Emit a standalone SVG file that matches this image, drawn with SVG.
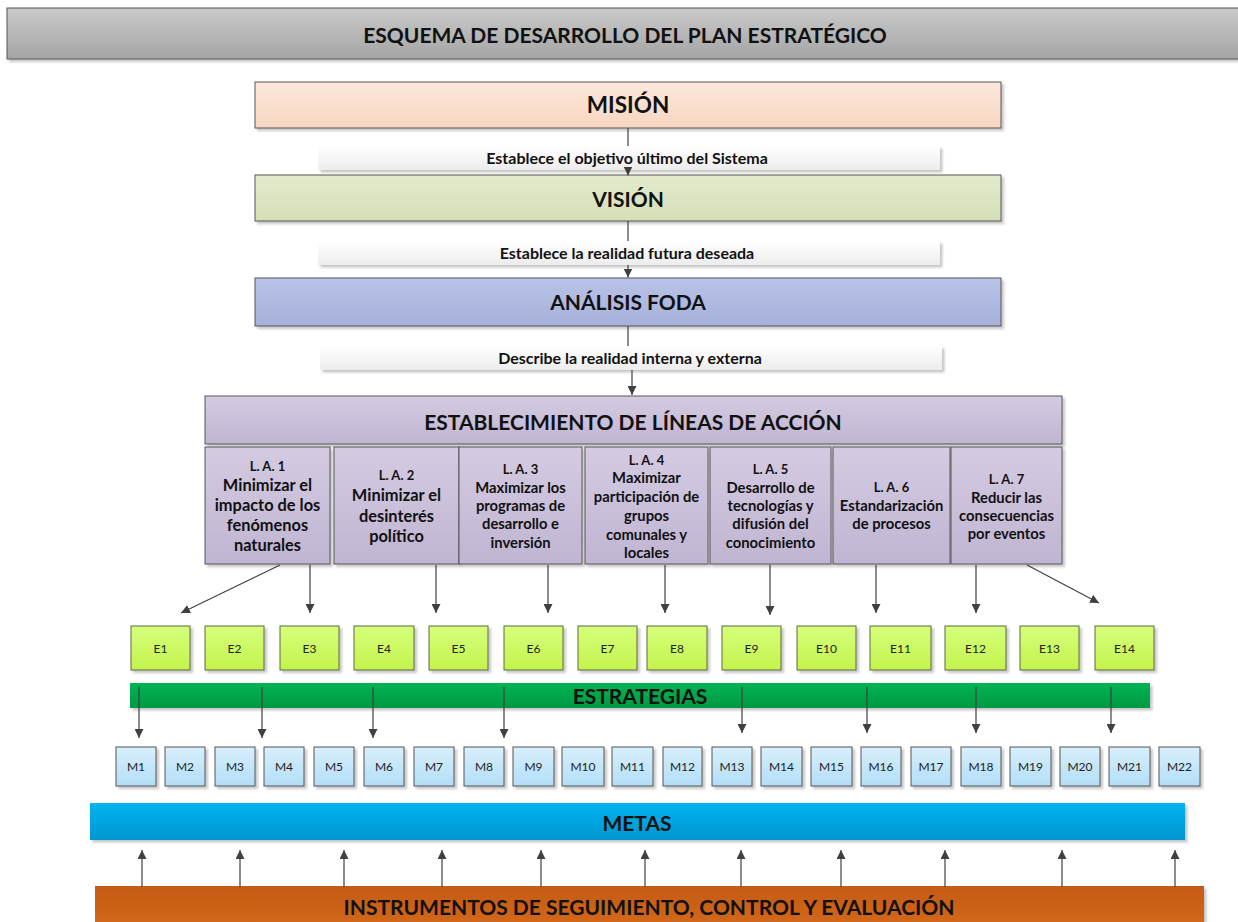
<svg xmlns="http://www.w3.org/2000/svg" width="1238" height="922" viewBox="0 0 1238 922">
<defs>
<linearGradient id="gTitle" x1="0" y1="0" x2="0" y2="1"><stop offset="0" stop-color="#cacaca"/><stop offset="1" stop-color="#a4a4a4"/></linearGradient>
<linearGradient id="gMision" x1="0" y1="0" x2="0" y2="1"><stop offset="0" stop-color="#fbe8dc"/><stop offset="1" stop-color="#f7d6c1"/></linearGradient>
<linearGradient id="gVision" x1="0" y1="0" x2="0" y2="1"><stop offset="0" stop-color="#e2eacd"/><stop offset="1" stop-color="#d4dfb6"/></linearGradient>
<linearGradient id="gFoda" x1="0" y1="0" x2="0" y2="1"><stop offset="0" stop-color="#b9c3e7"/><stop offset="1" stop-color="#a6b1da"/></linearGradient>
<linearGradient id="gLinea" x1="0" y1="0" x2="0" y2="1"><stop offset="0" stop-color="#d4cbe2"/><stop offset="1" stop-color="#c0b5d2"/></linearGradient>
<linearGradient id="gLabel" x1="0" y1="0" x2="0" y2="1"><stop offset="0" stop-color="#ffffff"/><stop offset="1" stop-color="#ececec"/></linearGradient>
<linearGradient id="gE" x1="0" y1="0" x2="0" y2="1"><stop offset="0" stop-color="#d6ff7c"/><stop offset="1" stop-color="#c3f34c"/></linearGradient>
<linearGradient id="gM" x1="0" y1="0" x2="0" y2="1"><stop offset="0" stop-color="#d8effc"/><stop offset="1" stop-color="#b2def7"/></linearGradient>
<linearGradient id="gEst" x1="0" y1="0" x2="0" y2="1"><stop offset="0" stop-color="#00b453"/><stop offset="1" stop-color="#009943"/></linearGradient>
<linearGradient id="gMetas" x1="0" y1="0" x2="0" y2="1"><stop offset="0" stop-color="#00b4f0"/><stop offset="1" stop-color="#0096cf"/></linearGradient>
<linearGradient id="gInst" x1="0" y1="0" x2="0" y2="1"><stop offset="0" stop-color="#c45a12"/><stop offset="1" stop-color="#d2691c"/></linearGradient>
<filter id="sh" x="-5%" y="-10%" width="115%" height="140%"><feDropShadow dx="2.5" dy="2.5" stdDeviation="1" flood-color="#000" flood-opacity="0.22"/></filter>
<marker id="ar" viewBox="0 0 10 10" refX="10" refY="5" markerWidth="9" markerHeight="9" markerUnits="userSpaceOnUse" orient="auto"><path d="M0,0 L10,5 L0,10 z" fill="#404040"/></marker>
</defs>
<style>
.t{font-family:Lato,"Open Sans","Liberation Sans",sans-serif;font-weight:bold;fill:#111;text-anchor:middle;dominant-baseline:central}
.big{font-size:21px}
.mis{font-size:22.5px}
.lab{font-size:16px}
.la{font-size:14.8px}
.la1{font-size:16.4px}
.lh{font-size:13px}
.sm{font-family:Lato,"Open Sans","Liberation Sans",sans-serif;font-size:12px;fill:#222;text-anchor:middle;dominant-baseline:central}
.bx{stroke:#555;stroke-width:1;filter:url(#sh)}
.lb{fill:url(#gLabel);stroke:none;filter:url(#sh)}
.e{fill:url(#gE);stroke:#5b6b3f;stroke-width:1;filter:url(#sh)}
.m{fill:url(#gM);stroke:#555;stroke-width:1;filter:url(#sh)}
.c{stroke:#404040;stroke-width:1.2;fill:none}
.ca{stroke:#404040;stroke-width:1.2;fill:none;marker-end:url(#ar)}
</style>
<rect width="1238" height="922" fill="#fff"/>

<g id="titulo"><rect class="bx" x="7" y="8" width="1240" height="51" fill="url(#gTitle)"/><text class="t big" x="625" y="34">ESQUEMA DE DESARROLLO DEL PLAN ESTRATÉGICO</text></g>

<g id="mision"><rect class="bx" x="255" y="82" width="746" height="46" fill="url(#gMision)"/><text class="t mis" x="628" y="104">MISIÓN</text></g>
<g id="label1"><rect class="lb" x="318" y="146" width="622" height="24"/><text class="t lab" x="627" y="157">Establece el objetivo último del Sistema</text></g>
<g id="vision"><rect class="bx" x="255" y="175" width="746" height="46" fill="url(#gVision)"/><text class="t big" x="628" y="198">VISIÓN</text></g>
<g id="label2"><rect class="lb" x="318" y="241" width="622" height="24"/><text class="t lab" x="627" y="252">Establece la realidad futura deseada</text></g>
<g id="foda"><rect class="bx" x="255" y="278" width="746" height="48" fill="url(#gFoda)"/><text class="t big" x="628" y="301">ANÁLISIS FODA</text></g>
<g id="label3"><rect class="lb" x="320" y="346" width="622" height="24"/><text class="t lab" x="630" y="357">Describe la realidad interna y externa</text></g>
<g id="lineas"><rect class="bx" x="205" y="396" width="857" height="48" fill="url(#gLinea)"/><text class="t big" x="633" y="421">ESTABLECIMIENTO DE LÍNEAS DE ACCIÓN</text></g>

<g id="la1"><rect class="bx" x="205" y="447" width="125" height="117" fill="url(#gLinea)"/>
<text class="t lh" x="267.5" y="466">L. A. 1</text><text class="t la1" x="267.5" y="484">Minimizar el</text><text class="t la1" x="267.5" y="504">impacto de los</text><text class="t la1" x="267.5" y="524">fenómenos</text><text class="t la1" x="267.5" y="544">naturales</text></g>
<g id="la2"><rect class="bx" x="334" y="447" width="125" height="117" fill="url(#gLinea)"/>
<text class="t lh" x="396.5" y="475">L. A. 2</text><text class="t la1" x="396.5" y="494">Minimizar el</text><text class="t la1" x="396.5" y="515">desinterés</text><text class="t la1" x="396.5" y="535">político</text></g>
<g id="la3"><rect class="bx" x="459" y="447" width="123" height="117" fill="url(#gLinea)"/>
<text class="t lh" x="520.5" y="469">L. A. 3</text><text class="t la" x="520.5" y="487">Maximizar los</text><text class="t la" x="520.5" y="505">programas de</text><text class="t la" x="520.5" y="523">desarrollo e</text><text class="t la" x="520.5" y="542">inversión</text></g>
<g id="la4"><rect class="bx" x="585" y="447" width="123" height="117" fill="url(#gLinea)"/>
<text class="t lh" x="646.5" y="460">L. A. 4</text><text class="t la" x="646.5" y="477">Maximizar</text><text class="t la" x="646.5" y="496">participación de</text><text class="t la" x="646.5" y="515">grupos</text><text class="t la" x="646.5" y="534">comunales y</text><text class="t la" x="646.5" y="552">locales</text></g>
<g id="la5"><rect class="bx" x="710" y="447" width="121" height="117" fill="url(#gLinea)"/>
<text class="t lh" x="770.5" y="469">L. A. 5</text><text class="t la" x="770.5" y="487">Desarrollo de</text><text class="t la" x="770.5" y="505">tecnologías y</text><text class="t la" x="770.5" y="523">difusión del</text><text class="t la" x="770.5" y="542">conocimiento</text></g>
<g id="la6"><rect class="bx" x="833" y="447" width="117" height="117" fill="url(#gLinea)"/>
<text class="t lh" x="891.5" y="487">L. A. 6</text><text class="t la" x="891.5" y="505">Estandarización</text><text class="t la" x="891.5" y="523">de procesos</text></g>
<g id="la7"><rect class="bx" x="951" y="447" width="111" height="117" fill="url(#gLinea)"/>
<text class="t lh" x="1006.5" y="479">L. A. 7</text><text class="t la" x="1006.5" y="497">Reducir las</text><text class="t la" x="1006.5" y="515">consecuencias</text><text class="t la" x="1006.5" y="533">por eventos</text></g>

<g id="e1"><rect class="e" x="131" y="626" width="59" height="44"/><text class="sm" x="160.5" y="648">E1</text></g>
<g id="e2"><rect class="e" x="205" y="626" width="59" height="44"/><text class="sm" x="234.5" y="648">E2</text></g>
<g id="e3"><rect class="e" x="280" y="626" width="59" height="44"/><text class="sm" x="309.5" y="648">E3</text></g>
<g id="e4"><rect class="e" x="354" y="626" width="60" height="44"/><text class="sm" x="384" y="648">E4</text></g>
<g id="e5"><rect class="e" x="429" y="626" width="59" height="44"/><text class="sm" x="458.5" y="648">E5</text></g>
<g id="e6"><rect class="e" x="504" y="626" width="59" height="44"/><text class="sm" x="533.5" y="648">E6</text></g>
<g id="e7"><rect class="e" x="578" y="626" width="59" height="44"/><text class="sm" x="607.5" y="648">E7</text></g>
<g id="e8"><rect class="e" x="647" y="626" width="60" height="44"/><text class="sm" x="677" y="648">E8</text></g>
<g id="e9"><rect class="e" x="722" y="626" width="59" height="44"/><text class="sm" x="751.5" y="648">E9</text></g>
<g id="e10"><rect class="e" x="797" y="626" width="59" height="44"/><text class="sm" x="826.5" y="648">E10</text></g>
<g id="e11"><rect class="e" x="870" y="626" width="61" height="44"/><text class="sm" x="900.5" y="648">E11</text></g>
<g id="e12"><rect class="e" x="945" y="626" width="61" height="44"/><text class="sm" x="975.5" y="648">E12</text></g>
<g id="e13"><rect class="e" x="1020" y="626" width="59" height="44"/><text class="sm" x="1049.5" y="648">E13</text></g>
<g id="e14"><rect class="e" x="1095" y="626" width="59" height="44"/><text class="sm" x="1124.5" y="648">E14</text></g>

<g id="estrategias"><rect x="130" y="683" width="1020" height="25" fill="url(#gEst)" filter="url(#sh)"/><text class="t big" x="640" y="695.5">ESTRATEGIAS</text></g>

<g id="m1"><rect class="m" x="116" y="747" width="40" height="39"/><text class="sm" x="136" y="766.5">M1</text></g>
<g id="m2"><rect class="m" x="165" y="747" width="40" height="39"/><text class="sm" x="185" y="766.5">M2</text></g>
<g id="m3"><rect class="m" x="215" y="747" width="40" height="39"/><text class="sm" x="235" y="766.5">M3</text></g>
<g id="m4"><rect class="m" x="264" y="747" width="40" height="39"/><text class="sm" x="284" y="766.5">M4</text></g>
<g id="m5"><rect class="m" x="314" y="747" width="40" height="39"/><text class="sm" x="334" y="766.5">M5</text></g>
<g id="m6"><rect class="m" x="364" y="747" width="40" height="39"/><text class="sm" x="384" y="766.5">M6</text></g>
<g id="m7"><rect class="m" x="414" y="747" width="40" height="39"/><text class="sm" x="434" y="766.5">M7</text></g>
<g id="m8"><rect class="m" x="464" y="747" width="40" height="39"/><text class="sm" x="484" y="766.5">M8</text></g>
<g id="m9"><rect class="m" x="513" y="747" width="41" height="39"/><text class="sm" x="533.5" y="766.5">M9</text></g>
<g id="m10"><rect class="m" x="562" y="747" width="42" height="39"/><text class="sm" x="583" y="766.5">M10</text></g>
<g id="m11"><rect class="m" x="612" y="747" width="41" height="39"/><text class="sm" x="632.5" y="766.5">M11</text></g>
<g id="m12"><rect class="m" x="663" y="747" width="39" height="39"/><text class="sm" x="682.5" y="766.5">M12</text></g>
<g id="m13"><rect class="m" x="712" y="747" width="40" height="39"/><text class="sm" x="732" y="766.5">M13</text></g>
<g id="m14"><rect class="m" x="761" y="747" width="41" height="39"/><text class="sm" x="781.5" y="766.5">M14</text></g>
<g id="m15"><rect class="m" x="811" y="747" width="41" height="39"/><text class="sm" x="831.5" y="766.5">M15</text></g>
<g id="m16"><rect class="m" x="861" y="747" width="40" height="39"/><text class="sm" x="881" y="766.5">M16</text></g>
<g id="m17"><rect class="m" x="911" y="747" width="40" height="39"/><text class="sm" x="931" y="766.5">M17</text></g>
<g id="m18"><rect class="m" x="961" y="747" width="40" height="39"/><text class="sm" x="981" y="766.5">M18</text></g>
<g id="m19"><rect class="m" x="1010" y="747" width="41" height="39"/><text class="sm" x="1030.5" y="766.5">M19</text></g>
<g id="m20"><rect class="m" x="1060" y="747" width="40" height="39"/><text class="sm" x="1080" y="766.5">M20</text></g>
<g id="m21"><rect class="m" x="1109" y="747" width="41" height="39"/><text class="sm" x="1129.5" y="766.5">M21</text></g>
<g id="m22"><rect class="m" x="1159" y="747" width="41" height="39"/><text class="sm" x="1179.5" y="766.5">M22</text></g>

<g id="metas"><rect x="90" y="803" width="1095" height="37" fill="url(#gMetas)" filter="url(#sh)"/><text class="t big" x="637" y="822">METAS</text></g>
<g id="instrumentos"><rect x="95" y="886" width="1109" height="40" fill="url(#gInst)" filter="url(#sh)"/><text class="t big" x="649" y="906">INSTRUMENTOS DE SEGUIMIENTO, CONTROL Y EVALUACIÓN</text></g>

<g id="connectors">
<path class="c" d="M628,128 L628,146"/>
<path class="ca" d="M628,170 L628,175.5"/>
<path class="c" d="M628,221 L628,241"/>
<path class="ca" d="M628,265 L628,277.5"/>
<path class="c" d="M628,326 L628,346"/>
<path class="ca" d="M632,370 L632,395"/>
<path class="ca" d="M280,565 L181,613"/>
<path class="ca" d="M310,565 L310,613"/>
<path class="ca" d="M436,565 L436,613"/>
<path class="ca" d="M548,565 L548,613"/>
<path class="ca" d="M665,565 L665,613"/>
<path class="ca" d="M770,565 L770,615"/>
<path class="ca" d="M876,565 L876,613"/>
<path class="ca" d="M976,565 L976,613"/>
<path class="ca" d="M1027,565 L1099,603"/>
<path class="ca" d="M139,687 L139,738"/>
<path class="ca" d="M262,687 L262,738"/>
<path class="ca" d="M373,687 L373,738"/>
<path class="ca" d="M504,687 L504,738"/>
<path class="ca" d="M742,687 L742,733"/>
<path class="ca" d="M867,687 L867,733"/>
<path class="ca" d="M976,687 L976,733"/>
<path class="ca" d="M1111,687 L1111,733"/>
<path class="ca" d="M142,887 L142,850"/>
<path class="ca" d="M240,887 L240,850"/>
<path class="ca" d="M344,887 L344,850"/>
<path class="ca" d="M442,887 L442,850"/>
<path class="ca" d="M541,887 L541,850"/>
<path class="ca" d="M645,887 L645,850"/>
<path class="ca" d="M741,887 L741,850"/>
<path class="ca" d="M841,887 L841,850"/>
<path class="ca" d="M945,887 L945,850"/>
<path class="ca" d="M1062,887 L1062,850"/>
<path class="ca" d="M1175,887 L1175,850"/>
</g>
</svg>
